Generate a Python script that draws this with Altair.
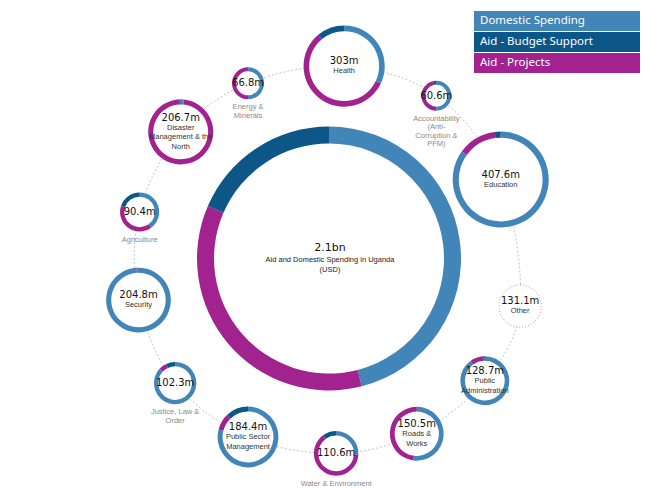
import math
import altair as alt
import pandas as pd

# ---------------- data ----------------
series = ["Domestic Spending", "Aid - Budget Support", "Aid - Projects"]
series_colors = ["#4285b8", "#0c5688", "#a2228f"]

sectors = ["Health", "Accountability (Anti-Corruption & PFM)", "Education", "Other",
           "Public Administration", "Roads & Works", "Water & Environment",
           "Public Sector Management", "Justice, Law & Order", "Security",
           "Agriculture", "Disaster Management & the North", "Energy & Minerals"]
label_lines = [["Health"], ["Accountability", "(Anti-", "Corruption &", "PFM)"], ["Education"],
               ["Other"], ["Public", "Administration"], ["Roads &", "Works"],
               ["Water & Environment"], ["Public Sector", "Management"],
               ["Justice, Law &", "Order"], ["Security"], ["Agriculture"],
               ["Disaster", "Management & the", "North"], ["Energy &", "Minerals"]]
totals_m = [303, 60.6, 407.6, 131.1, 128.7, 150.5, 110.6, 184.4, 102.3, 204.8, 90.4, 206.7, 66.8]
total_labels = ["303m", "60.6m", "407.6m", "131.1m", "128.7m", "150.5m", "110.6m",
                "184.4m", "102.3m", "204.8m", "90.4m", "206.7m", "66.8m"]
domestic_pct = [32, 50, 85, 0, 90, 52, 26, 79, 87, 99, 40, 1.5, 50]
budget_pct = [11, 3, 2, 0, 1, 0, 10, 12, 7, 0.5, 20, 0.5, 1]
projects_pct = [57, 47, 13, 0, 9, 48, 64, 9, 6, 0.5, 40, 98, 49]

overall_label = "2.1bn"
overall_title = ["Aid and Domestic Spending in Uganda", "(USD)"]
overall_pct = [46, 18.5, 35.5]   # domestic, budget support, projects

# ---------------- layout ----------------
W, H = 656, 480
CX, CY = 329, 258.5
BIG_R_OUT, BIG_R_IN = 132, 115
node_angle_deg = [4.5, 33.4, 65.3, 104, 128.1, 153.4, 177.9, 204.4, 231, 257.7, 283.8, 310.5, 335.2]
node_dist = [193, 195, 189, 197, 198, 196, 195, 196, 198, 195, 195, 195, 193]
R_MIN, R_MAX = 15, 48
LABEL_INSIDE_MIN = 120

vmin, vmax = min(totals_m), max(totals_m)


def node_radius(v):
    return R_MIN + (math.sqrt(v) - math.sqrt(vmin)) / (math.sqrt(vmax) - math.sqrt(vmin)) * (R_MAX - R_MIN)


xs = alt.Scale(domain=[8, 8 + W], nice=False, zero=False)
ys = alt.Scale(domain=[8, 8 + H], nice=False, zero=False, reverse=True)
color_scale = alt.Scale(domain=series, range=series_colors)

nodes, arcs, numbers, in_labels, out_labels = [], [], [], [], []
draw_order = [0, 2, 1]  # domestic, projects, budget support (clockwise from top)
for i, name in enumerate(sectors):
    a = math.radians(node_angle_deg[i])
    cx = CX + node_dist[i] * math.sin(a)
    cy = CY - node_dist[i] * math.cos(a)
    r = node_radius(totals_m[i])
    thick = 3 + 0.065 * r
    shares = [domestic_pct[i], budget_pct[i], projects_pct[i]]
    tot = sum(shares)
    has_ring = tot > 0
    nodes.append(dict(idx=i, name=name, cx=cx, cy=cy,
                      sz=(2 * (r - thick / 2)) ** 2 if has_ring else (2 * (r - thick + 1)) ** 2,
                      ring=has_ring))
    if has_ring:
        cum = 0.0
        for k in draw_order:
            t0 = 2 * math.pi * cum / tot
            cum += shares[k]
            t1 = 2 * math.pi * cum / tot
            arcs.append(dict(cx=cx, cy=cy, t0=t0, t1=t1, ro=r, ri=r - thick, series=series[k]))
    lines = label_lines[i]
    if totals_m[i] >= LABEL_INSIDE_MIN:
        ny = cy - len(lines) * 4.75
        numbers.append(dict(x=cx, y=ny, t=total_labels[i]))
        for j, ln in enumerate(lines):
            in_labels.append(dict(x=cx, y=ny + 10 + j * 9.5, t=ln))
    else:
        numbers.append(dict(x=cx, y=cy, t=total_labels[i]))
        for j, ln in enumerate(lines):
            out_labels.append(dict(x=cx, y=cy + r + 8 + j * 8.5, t=ln))

# big donut
cum = 0.0
tot = sum(overall_pct)
for k in draw_order:
    t0 = 2 * math.pi * cum / tot
    cum += overall_pct[k]
    t1 = 2 * math.pi * cum / tot
    arcs.append(dict(cx=CX, cy=CY, t0=t0, t1=t1, ro=BIG_R_OUT, ri=BIG_R_IN, series=series[k]))

center_num = [dict(x=CX + 1, y=CY - 10.5, t=overall_label)]
center_lab = [dict(x=CX + 1, y=CY + 1.5 + j * 10, t=ln) for j, ln in enumerate(overall_title)]

nodes_df = pd.DataFrame(nodes)
arcs_df = pd.DataFrame(arcs)

# legend
LEG_X0, LEG_X1, LEG_TOP, LEG_ROW, LEG_GAP = 474, 640, 11, 20, 1
legend_df = pd.DataFrame([
    dict(x0=LEG_X0, x1=LEG_X1, y0=LEG_TOP + k * (LEG_ROW + LEG_GAP),
         y1=LEG_TOP + k * (LEG_ROW + LEG_GAP) + LEG_ROW,
         ty=LEG_TOP + k * (LEG_ROW + LEG_GAP) + LEG_ROW / 2, tx=LEG_X0 + 6, series=s)
    for k, s in enumerate(series)])

X = lambda f: alt.X(f, scale=xs, axis=None)
Y = lambda f: alt.Y(f, scale=ys, axis=None)

connector = alt.Chart(nodes_df).mark_line(
    interpolate="cardinal-closed", color="#b5b5b5", strokeWidth=0.8, strokeDash=[2, 2]
).encode(x=X("cx:Q"), y=Y("cy:Q"), order=alt.Order("idx:Q"))

disks = alt.Chart(nodes_df[nodes_df.ring]).mark_point(
    shape="circle", filled=True, fill="white", opacity=1, strokeWidth=0
).encode(x=X("cx:Q"), y=Y("cy:Q"), size=alt.Size("sz:Q", scale=None))

other = alt.Chart(nodes_df[~nodes_df.ring]).mark_point(
    shape="circle", filled=False, fill="white", fillOpacity=1, stroke="#9a9a9a",
    strokeWidth=1, strokeDash=[1, 2], opacity=1
).encode(x=X("cx:Q"), y=Y("cy:Q"), size=alt.Size("sz:Q", scale=None))

rings = alt.Chart(arcs_df).mark_arc().encode(
    x=X("cx:Q"), y=Y("cy:Q"),
    theta=alt.Theta("t0:Q", scale=None, stack=False), theta2=alt.Theta2("t1:Q"),
    radius=alt.Radius("ro:Q", scale=None), radius2=alt.Radius2("ri:Q"),
    color=alt.Color("series:N", scale=color_scale, legend=None),
)


def text_layer(rows, size, color, font):
    return alt.Chart(pd.DataFrame(rows)).mark_text(
        font=font, fontSize=size, color=color, align="center", baseline="middle"
    ).encode(x=X("x:Q"), y=Y("y:Q"), text="t:N")


num_layer = text_layer(numbers, 10, "#111111", "DejaVu Sans")
in_layer = text_layer(in_labels, 7.5, "#333333", "Liberation Sans")
out_layer = text_layer(out_labels, 7.5, "#8a8a8a", "Liberation Sans")
cnum_layer = text_layer(center_num, 11, "#111111", "DejaVu Sans")
clab_layer = text_layer(center_lab, 7.5, "#222222", "Liberation Sans")

leg_rect = alt.Chart(legend_df).mark_rect().encode(
    x=X("x0:Q"), x2="x1:Q", y=Y("y0:Q"), y2="y1:Q",
    color=alt.Color("series:N", scale=color_scale, legend=None))
leg_text = alt.Chart(legend_df).mark_text(
    font="Noto Sans", fontSize=11.5, color="white", align="left", baseline="middle"
).encode(x=X("tx:Q"), y=Y("ty:Q"), text="series:N")

chart = alt.layer(connector, disks, other, rings, num_layer, in_layer, out_layer,
                  cnum_layer, clab_layer, leg_rect, leg_text).properties(
    width=W, height=H, padding=0, autosize="none"
).configure_view(strokeWidth=0)

chart.save("out.html", embed_options={"renderer": "svg", "actions": False})
